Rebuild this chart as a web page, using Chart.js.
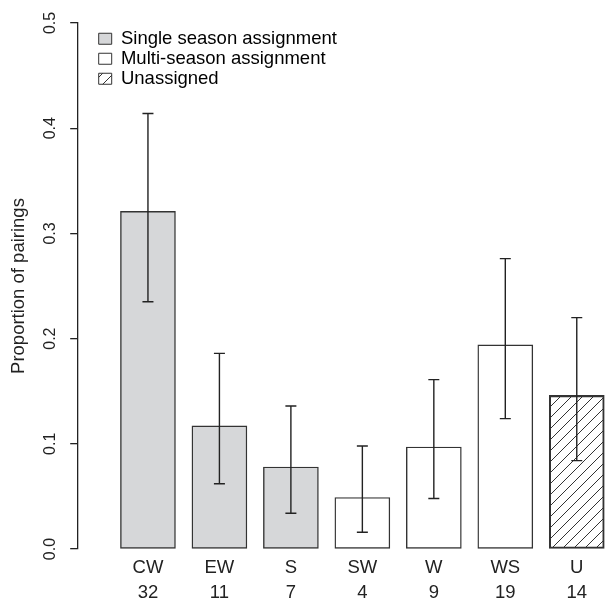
<!DOCTYPE html>
<html>
<head>
<meta charset="utf-8">
<script src="https://cdn.jsdelivr.net/npm/chart.js@4.4.1/dist/chart.umd.min.js"></script>
<style>
  body { margin: 0; background: #fff; }
</style>
</head>
<body>
<canvas id="myChart" width="605" height="602"></canvas>
<script>
// datos
const categorias = ["CW", "EW", "S", "SW", "W", "WS", "U"];
const conteos = [32, 11, 7, 4, 9, 19, 14];
const proporciones = [0.321, 0.117, 0.078, 0.049, 0.097, 0.194, 0.146];
const inferior = [0.235, 0.062, 0.034, 0.016, 0.048, 0.124, 0.084];
const superior = [0.414, 0.186, 0.136, 0.098, 0.161, 0.276, 0.220];
const tipo = [0, 0, 0, 1, 1, 1, 2];
const grupos = ["Single season assignment", "Multi-season assignment", "Unassigned"];
const ticksY = [0, 0.1, 0.2, 0.3, 0.4, 0.5];

const fuente = "'Liberation Sans', Arial, Helvetica, sans-serif";
const oscuro = "#222";

// rayado para los no asignados
const tile = document.createElement("canvas");
tile.width = 11;
tile.height = 11;
const tctx = tile.getContext("2d");
tctx.strokeStyle = "#333";
tctx.lineWidth = 1;
tctx.beginPath();
tctx.moveTo(-1, 12); tctx.lineTo(12, -1);
tctx.moveTo(-1, 1); tctx.lineTo(1, -1);
tctx.moveTo(10, 12); tctx.lineTo(12, 10);
tctx.stroke();
const rayado = document.getElementById("myChart").getContext("2d").createPattern(tile, "repeat");

const rellenos = ["rgb(214,215,217)", "#ffffff", rayado];

const barrasError = {
  id: "barrasError",
  afterDatasetsDraw(chart) {
    const { ctx, scales: { x, y } } = chart;
    ctx.save();
    ctx.strokeStyle = oscuro;
    ctx.lineWidth = 1.4;
    for (let i = 0; i < categorias.length; i++) {
      const px = x.getPixelForValue(i);
      const yl = y.getPixelForValue(inferior[i]);
      const yh = y.getPixelForValue(superior[i]);
      ctx.beginPath();
      ctx.moveTo(px, yl); ctx.lineTo(px, yh);
      ctx.moveTo(px - 5.5, yl); ctx.lineTo(px + 5.5, yl);
      ctx.moveTo(px - 5.5, yh); ctx.lineTo(px + 5.5, yh);
      ctx.stroke();
    }
    ctx.restore();
  }
};

// la leyenda va dentro del area, algo separada del eje
const moverLeyenda = {
  id: "moverLeyenda",
  afterLayout(chart) {
    const l = chart.legend;
    if (!l) return;
    l.left = chart.chartArea.left + 20;
    l.top = chart.chartArea.top + 5;
  }
};

const config = {
  type: "bar",
  data: {
    datasets: [{
      data: proporciones.map((v, i) => ({ x: i, y: v })),
      backgroundColor: tipo.map((t) => rellenos[t]),
      borderColor: "#333",
      borderWidth: 1.4,
      borderSkipped: false,
      barThickness: 55
    }]
  },
  options: {
    responsive: false,
    animation: false,
    layout: { padding: { left: 0, right: 0, top: 23, bottom: -9 } },
    plugins: {
      tooltip: { enabled: false },
      legend: {
        position: "chartArea",
        align: "start",
        labels: {
          boxWidth: 13,
          boxHeight: 11,
          padding: 1.5,
          color: oscuro,
          font: { family: fuente, size: 18.5 },
          generateLabels: () => grupos.map((g, i) => ({
            text: g,
            fillStyle: rellenos[i],
            strokeStyle: "#333",
            lineWidth: 1,
            hidden: false,
            datasetIndex: 0
          }))
        }
      }
    },
    scales: {
      x: {
        type: "linear",
        offset: false,
        min: -0.99,
        max: 6.395,
        afterBuildTicks: (axis) => { axis.ticks = categorias.map((c, i) => ({ value: i })); },
        grid: { display: false, drawTicks: false, offset: false },
        border: { display: false },
        ticks: {
          padding: 6,
          color: oscuro,
          font: { family: fuente, size: 18.5, lineHeight: 1.35 },
          maxRotation: 0,
          autoSkip: false,
          callback: (v) => [categorias[v], String(conteos[v])]
        }
      },
      y: {
        min: 0,
        max: 0.5,
        afterBuildTicks: (axis) => { axis.ticks = ticksY.map((v) => ({ value: v })); },
        border: { display: true, color: oscuro, width: 1.3 },
        grid: { drawOnChartArea: false, drawTicks: true, tickLength: 7, color: oscuro, lineWidth: 1.3 },
        ticks: {
          minRotation: 90,
          maxRotation: 90,
          crossAlign: "center",
          padding: 8,
          color: oscuro,
          font: { family: fuente, size: 16 },
          callback: (v) => v.toFixed(1)
        },
        title: {
          display: true,
          text: "Proportion of pairings",
          color: oscuro,
          font: { family: fuente, size: 18.5 },
          padding: { top: 8, bottom: 4.8 }
        }
      }
    }
  },
  plugins: [barrasError, moverLeyenda]
};

const myChart = new Chart(document.getElementById("myChart"), config);
</script>
</body>
</html>
